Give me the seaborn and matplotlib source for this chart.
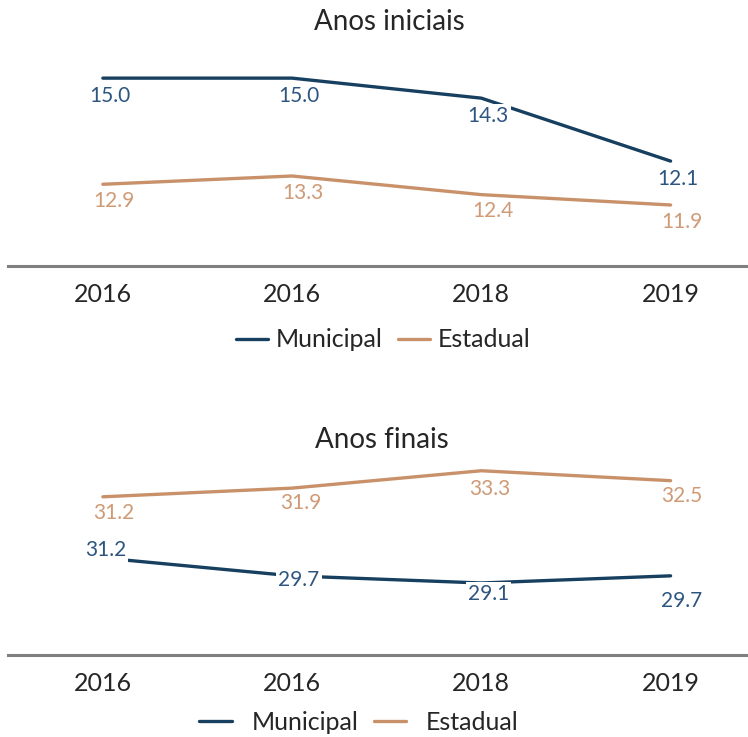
import matplotlib
matplotlib.use("Agg")
import matplotlib.pyplot as plt
import pandas as pd
import seaborn as sns
from matplotlib.lines import Line2D

sns.set_style("white")
plt.rcParams['font.family'] = ['Lato', 'DejaVu Sans']

# data
years = ["2016", "2016", "2018", "2019"]
iniciais_municipal = [15.0, 15.0, 14.3, 12.1]
iniciais_estadual = [12.9, 13.3, 12.4, 11.9]
finais_municipal = [31.2, 29.7, 29.1, 29.7]
finais_estadual = [31.2, 31.9, 33.3, 32.5]

c_mun = "#173f5f"
c_mun_txt = "#2d5580"
c_est = "#c8916a"
c_est_txt = "#cf9a76"


def draw_panel(ax, mun, est, lim_mun, lim_est, off_mun, off_est):
    df = pd.DataFrame({"pos": range(len(years)), "Municipal": mun, "Estadual": est})
    ax2 = ax.twinx()
    sns.lineplot(data=df, x="pos", y="Estadual", ax=ax, color=c_est, lw=2.4, zorder=2)
    sns.lineplot(data=df, x="pos", y="Municipal", ax=ax2, color=c_mun, lw=2.4, zorder=2)
    ax.set_ylim(*lim_est)
    ax2.set_ylim(*lim_mun)
    for a, vals, col, offs in [(ax, est, c_est_txt, off_est), (ax2, mun, c_mun_txt, off_mun)]:
        for i, v in enumerate(vals):
            a.annotate(f"{v:.1f}", (i, v), xytext=offs[i], textcoords="offset points",
                       ha="center", va="center", fontsize=15, color=col, zorder=5,
                       bbox=dict(boxstyle="square,pad=0.1", fc="white", ec="none"))
    for a in (ax, ax2):
        a.set_xlim(-0.5, 3.5)
        a.set_yticks([])
        a.set_ylabel("")
        a.set_xlabel("")
        for s in ["top", "left", "right", "bottom"]:
            a.spines[s].set_visible(False)
    ax.spines["bottom"].set_visible(True)
    ax.spines["bottom"].set_color("#7f7f7f")
    ax.spines["bottom"].set_linewidth(2.2)
    ax.set_xticks(range(len(years)))
    ax.set_xticklabels(years, fontsize=18, color="#262626")
    ax.tick_params(axis="x", length=0, pad=12)


fig = plt.figure(figsize=(7.48, 7.37), dpi=100)
ax_top = fig.add_axes([0.011, 0.639, 1.012, 0.30])
ax_bot = fig.add_axes([0.011, 0.111, 1.012, 0.272])

draw_panel(ax_top, iniciais_municipal, iniciais_estadual, (8.43, 16.16), (8.95, 19.63),
           [(5, -13)] * 4, [(8, -12)] * 4)
draw_panel(ax_bot, finais_municipal, finais_estadual, (23.05, 39.85), (18.44, 34.59),
           [(2, 6), (5, -3), (5, -8), (8, -18)], [(8, -12), (6, -11), (6, -13), (8, -11)])

fig.text(0.52, 0.970, "Anos iniciais", ha="center", va="center", fontsize=20, color="#262626")
fig.text(0.51, 0.403, "Anos finais", ha="center", va="center", fontsize=20, color="#262626")

handles = [Line2D([], [], color=c_mun, lw=2.4), Line2D([], [], color=c_est, lw=2.4)]
labels = ["Municipal", "Estadual"]
fig.legend(handles, labels, loc="center", bbox_to_anchor=(0.512, 0.539), ncol=2, frameon=False,
           fontsize=18, handlelength=1.3, handletextpad=0.3, columnspacing=0.6,
           labelcolor="#262626")
fig.legend(handles, labels, loc="center", bbox_to_anchor=(0.48, 0.020), ncol=2, frameon=False,
           fontsize=18, handlelength=1.3, handletextpad=0.8, columnspacing=0.6,
           labelcolor="#262626")

fig.savefig("out.png", dpi=100)
